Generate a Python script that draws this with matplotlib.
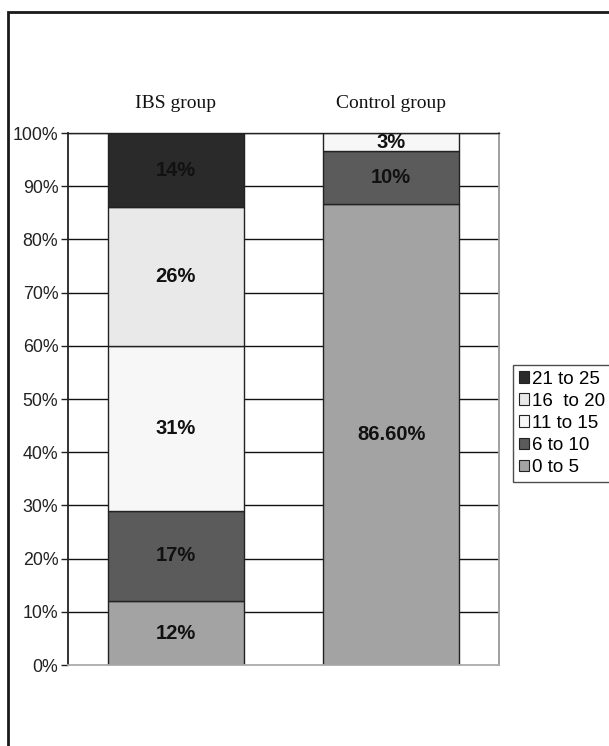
import matplotlib
matplotlib.use("Agg")
import matplotlib.pyplot as plt
from matplotlib.patches import Rectangle, Patch

groups = ["IBS group", "Control group"]
bands = ["0 to 5", "6 to 10", "11 to 15", "16  to 20", "21 to 25"]
ibs_values = [12, 17, 31, 26, 14]
control_values = [86.6, 10, 3.4, 0, 0]
ibs_labels = ["12%", "17%", "31%", "26%", "14%"]
control_labels = ["86.60%", "10%", "3%", "", ""]
band_colors = ["#a3a3a3", "#5b5b5b", "#f7f7f7", "#e9e9e9", "#2a2a2a"]
yticks = list(range(0, 101, 10))

W, H = 609, 746
fig = plt.figure(figsize=(W / 100, H / 100), dpi=100)
fig.patch.set_facecolor("white")

# outer frame (runs off the right and bottom edges)
fig.patches.append(Rectangle((8 / W, -0.1), 2.0, 1 - 12 / H + 0.1,
                             transform=fig.transFigure, fill=False,
                             edgecolor="#1a1a1a", lw=2.0, clip_on=False))

ax = fig.add_axes([68 / W, 1 - 665 / H, (499 - 68) / W, (665 - 133) / H])
ax.set_xlim(-0.5, 1.5)
ax.set_ylim(0, 100)

for yv in yticks[1:]:
    ax.axhline(yv, color="#111111", lw=1.0, zorder=0)

values = [ibs_values, control_values]
labels = [ibs_labels, control_labels]
for gi in range(len(groups)):
    bottom = 0
    for bi in range(len(bands)):
        v = values[gi][bi]
        if v > 0:
            ax.bar(gi, v, bottom=bottom, width=0.63, color=band_colors[bi],
                   edgecolor="#222222", linewidth=1.0, zorder=2)
            lab = labels[gi][bi]
            if lab:
                ax.text(gi, bottom + v / 2, lab, ha="center", va="center",
                        fontsize=14.5, fontweight="bold", family="Liberation Sans",
                        color="#111111", zorder=3)
        bottom += v
    ax.text(gi, 105.6, groups[gi], ha="center", va="center", fontsize=14,
            family="Liberation Serif", color="#111111", clip_on=False)

ax.set_yticks(yticks)
ax.set_yticklabels([f"{t}%" for t in yticks], family="Liberation Sans",
                   fontsize=12.8, color="#222222")
ax.tick_params(axis="y", length=5, width=1.0, color="#222222", pad=2)
ax.set_xticks([])

ax.spines["left"].set_color("#222222")
ax.spines["left"].set_linewidth(1.3)
ax.spines["top"].set_color("#222222")
ax.spines["top"].set_linewidth(1.0)
ax.spines["right"].set_color("#999999")
ax.spines["right"].set_linewidth(1.3)
ax.spines["bottom"].set_color("#aaaaaa")
ax.spines["bottom"].set_linewidth(1.3)

handles = [Patch(facecolor=band_colors[i], edgecolor="#222222", lw=0.8)
           for i in range(len(bands))][::-1]
leg = fig.legend(handles, bands[::-1], loc="upper left",
                 bbox_to_anchor=(513 / W, 1 - 365 / H),
                 prop={"family": "Liberation Sans", "size": 13.5},
                 frameon=True, fancybox=False, handlelength=0.55,
                 handleheight=0.55, handletextpad=0.18, borderpad=0.3,
                 labelspacing=0.27, borderaxespad=0)
leg.get_frame().set_edgecolor("#222222")
leg.get_frame().set_linewidth(1.0)

fig.savefig("out.png", dpi=100, facecolor="white")
